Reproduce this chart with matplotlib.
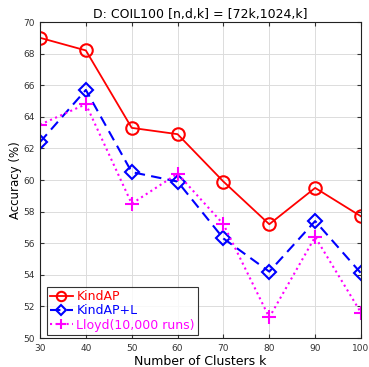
import matplotlib
matplotlib.use("Agg")
import matplotlib.pyplot as plt

k = [30, 40, 50, 60, 70, 80, 90, 100]
kindap = [69.0, 68.2, 63.3, 62.9, 59.9, 57.2, 59.5, 57.7]
kindap_l = [62.4, 65.7, 60.5, 59.9, 56.3, 54.2, 57.4, 54.1]
lloyd = [63.5, 64.8, 58.5, 60.4, 57.2, 51.3, 56.4, 51.6]

fig = plt.figure(figsize=(3.69, 3.67), dpi=100)
ax = fig.add_axes([40 / 369, 29 / 367, 321 / 369, 316 / 367])

ax.plot(k, kindap, "-", color="red", lw=1.3, marker="o", ms=9,
        mfc="none", mew=1.5, label="KindAP")
ax.plot(k, kindap_l, "--", color="blue", lw=1.5, marker="D", ms=7,
        mfc="none", mew=1.5, dashes=(5, 3), label="KindAP+L")
ax.plot(k, lloyd, ":", color="magenta", lw=1.5, marker="+", ms=10,
        mew=1.5, label="Lloyd(10,000 runs)")

ax.set_xlim(30, 100)
ax.set_ylim(50, 70)
ax.set_xticks(range(30, 101, 10))
ax.set_yticks(range(50, 71, 2))
ax.grid(True, color="#dcdcdc", lw=0.7)
ax.tick_params(labelsize=6.5, colors="#333333", direction="in", length=3,
               top=True, right=True)
ax.tick_params(axis="x", pad=4.5)
for s in ax.spines.values():
    s.set_color("#222222")
    s.set_linewidth(0.8)

ax.set_title("D: COIL100 [n,d,k] = [72k,1024,k]", fontsize=9, pad=3)
ax.set_xlabel("Number of Clusters k", fontsize=9, labelpad=1)
ax.set_ylabel("Accuracy (%)", fontsize=8.5, labelpad=1)

leg = ax.legend(loc="lower left", fontsize=9, frameon=True, fancybox=False,
                borderpad=0.25, handlelength=1.8, handletextpad=0.3,
                labelspacing=0.1, borderaxespad=0, markerscale=0.75,
                bbox_to_anchor=(0.022, 0.01))
leg.get_frame().set_edgecolor("black")
leg.get_frame().set_linewidth(0.8)
for t, c in zip(leg.get_texts(), ["red", "blue", "magenta"]):
    t.set_color(c)

fig.savefig("out.png", dpi=100)
